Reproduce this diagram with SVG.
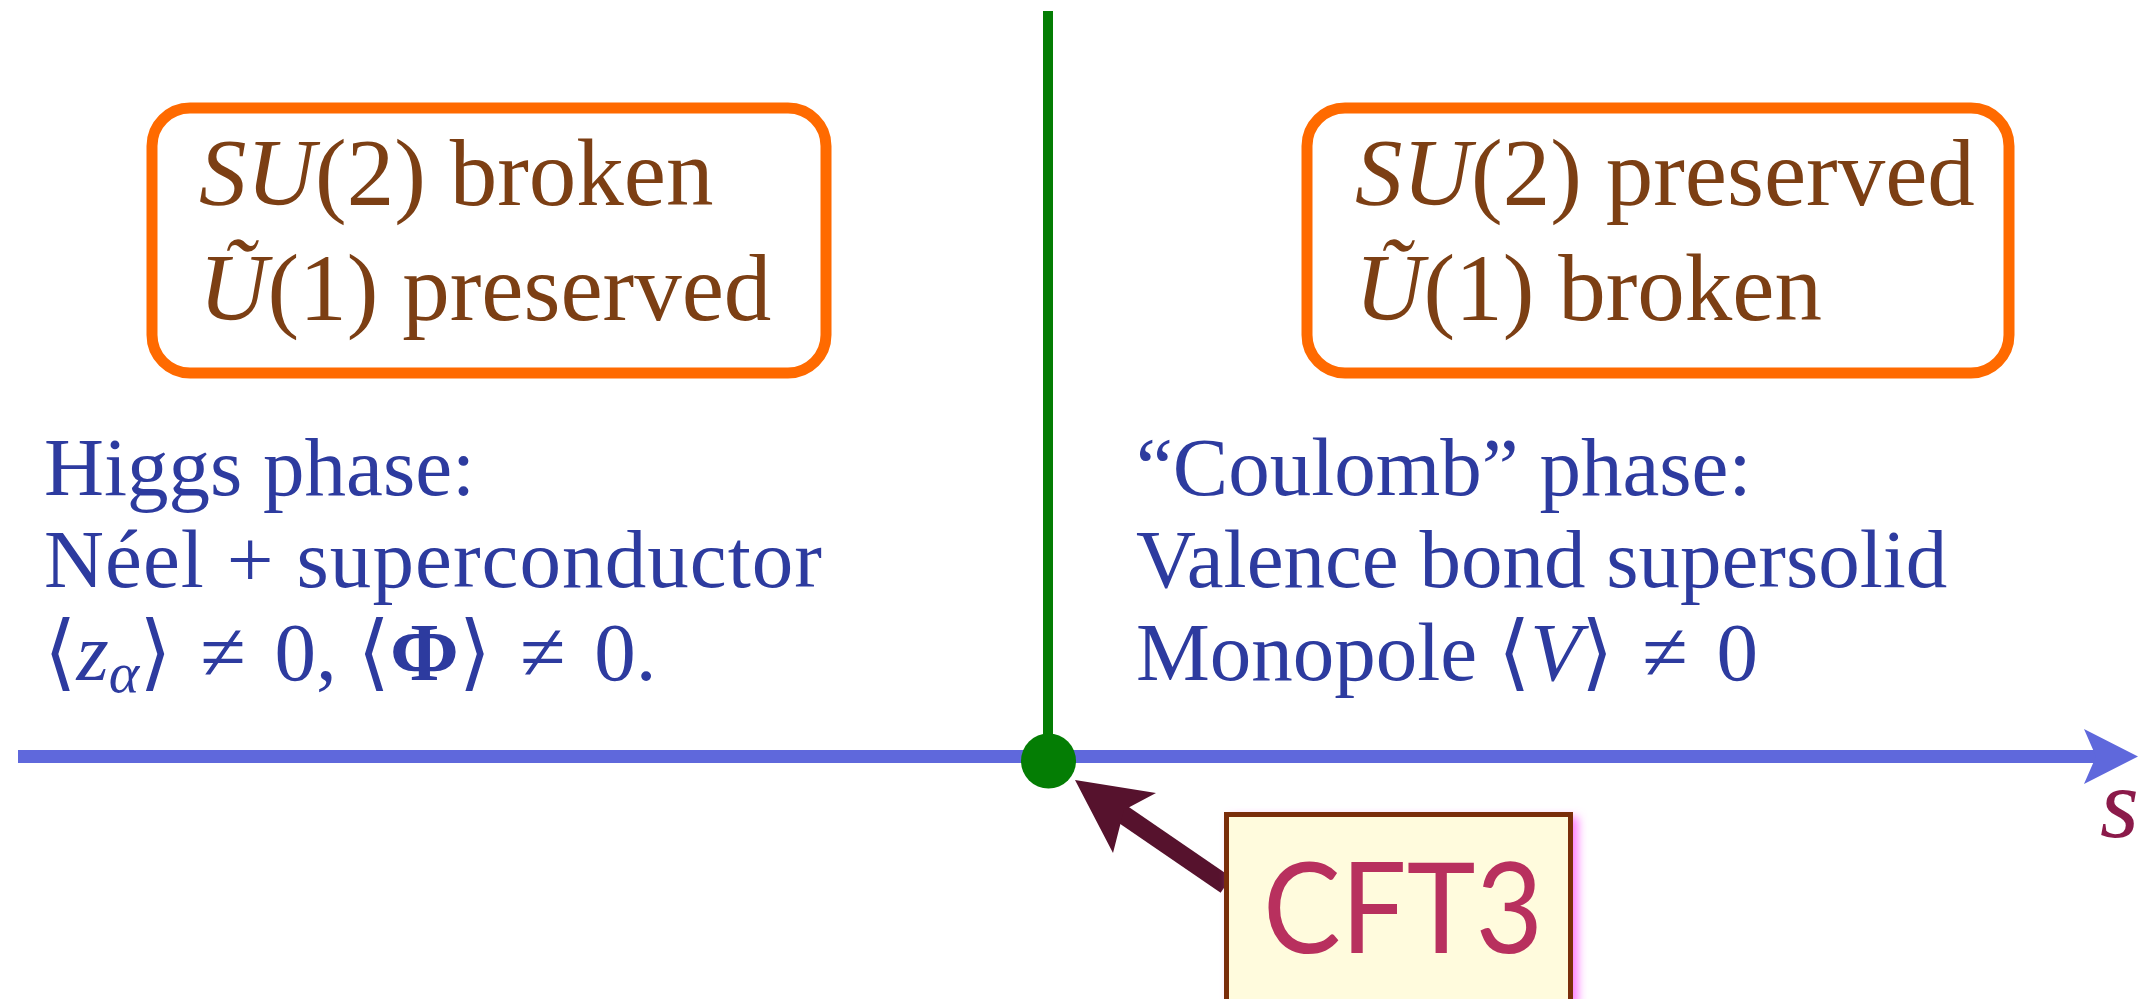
<svg xmlns="http://www.w3.org/2000/svg" width="2149" height="999" viewBox="0 0 2149 999">
<style>
.box{fill:#fff;stroke:#ff6a00;stroke-width:11}
.br{font-family:"Liberation Serif","DejaVu Serif",serif;font-size:95px;fill:#7c3f14}
.bl{font-family:"Liberation Serif","DejaVu Serif",serif;font-size:83px;fill:#2d3b9f}
.it{font-style:italic}
.bf{font-weight:bold}
</style>
<defs>
<filter id="blur" x="-20%" y="-20%" width="140%" height="140%"><feGaussianBlur stdDeviation="5"/></filter>
</defs>
<rect width="2149" height="999" fill="#fff"/>
<g id="connectors">
<line x1="18" y1="756.5" x2="2100" y2="756.5" stroke="#5f68dc" stroke-width="13"/>
<polygon points="2138,756.5 2084,729 2096,756.5 2084,784" fill="#5f68dc"/>
<line x1="1048" y1="11" x2="1048" y2="758" stroke="#047d04" stroke-width="10"/>
<line x1="1226" y1="885" x2="1118" y2="811" stroke="#56122d" stroke-width="19"/>
<polygon points="1075,780 1156,793 1124,810 1113,853" fill="#56122d"/>
</g>
<g id="critical-point">
<circle cx="1048.5" cy="761" r="27.5" fill="#047d04"/>
</g>
<g id="axis-label">
<text x="2100" y="837" font-family="Liberation Serif, serif" font-style="italic" font-size="100" fill="#8b1a4a">s</text>
</g>
<g id="box-left">
<rect class="box" x="152" y="108" width="674" height="265" rx="38"/>
<text class="br" x="199" y="205"><tspan class="it">SU</tspan>(2) broken</text>
<text class="br" x="199" y="320"><tspan class="it">Ũ</tspan>(1) preserved</text>
</g>
<g id="box-right">
<rect class="box" x="1307" y="108" width="702" height="265" rx="38"/>
<text class="br" x="1355" y="205"><tspan class="it">SU</tspan>(2) preserved</text>
<text class="br" x="1355" y="320"><tspan class="it">Ũ</tspan>(1) broken</text>
</g>
<g id="higgs-phase">
<text class="bl" x="44" y="495">Higgs phase:</text>
<text class="bl" x="44" y="587" textLength="778" lengthAdjust="spacing">Néel + superconductor</text>
<text class="bl" x="44" y="680">⟨<tspan class="it">z</tspan><tspan class="it" font-size="58" dy="12">α</tspan><tspan dy="-12">⟩ </tspan><tspan dx="8">≠</tspan><tspan dx="8"> 0, ⟨</tspan><tspan class="bf">Φ</tspan>⟩ <tspan dx="8">≠</tspan><tspan dx="8"> 0.</tspan></text>
</g>
<g id="coulomb-phase">
<text class="bl" x="1136" y="495">“Coulomb” phase:</text>
<text class="bl" x="1136" y="587">Valence bond supersolid</text>
<text class="bl" x="1136" y="680">Monopole ⟨<tspan class="it">V</tspan>⟩ <tspan dx="8">≠</tspan><tspan dx="8"> 0</tspan></text>
</g>
<g id="cft3">
<rect x="1230" y="817" width="348" height="190" fill="#ff7cff" filter="url(#blur)"/>
<rect x="1226.5" y="814.5" width="344" height="190" fill="#fffbdd" stroke="#7a2e0b" stroke-width="5"/>
<text x="1263" y="953" font-family="Lato, 'Liberation Sans', sans-serif" font-size="127" fill="#b8305e" textLength="280" lengthAdjust="spacingAndGlyphs">CFT3</text>
</g>
</svg>
